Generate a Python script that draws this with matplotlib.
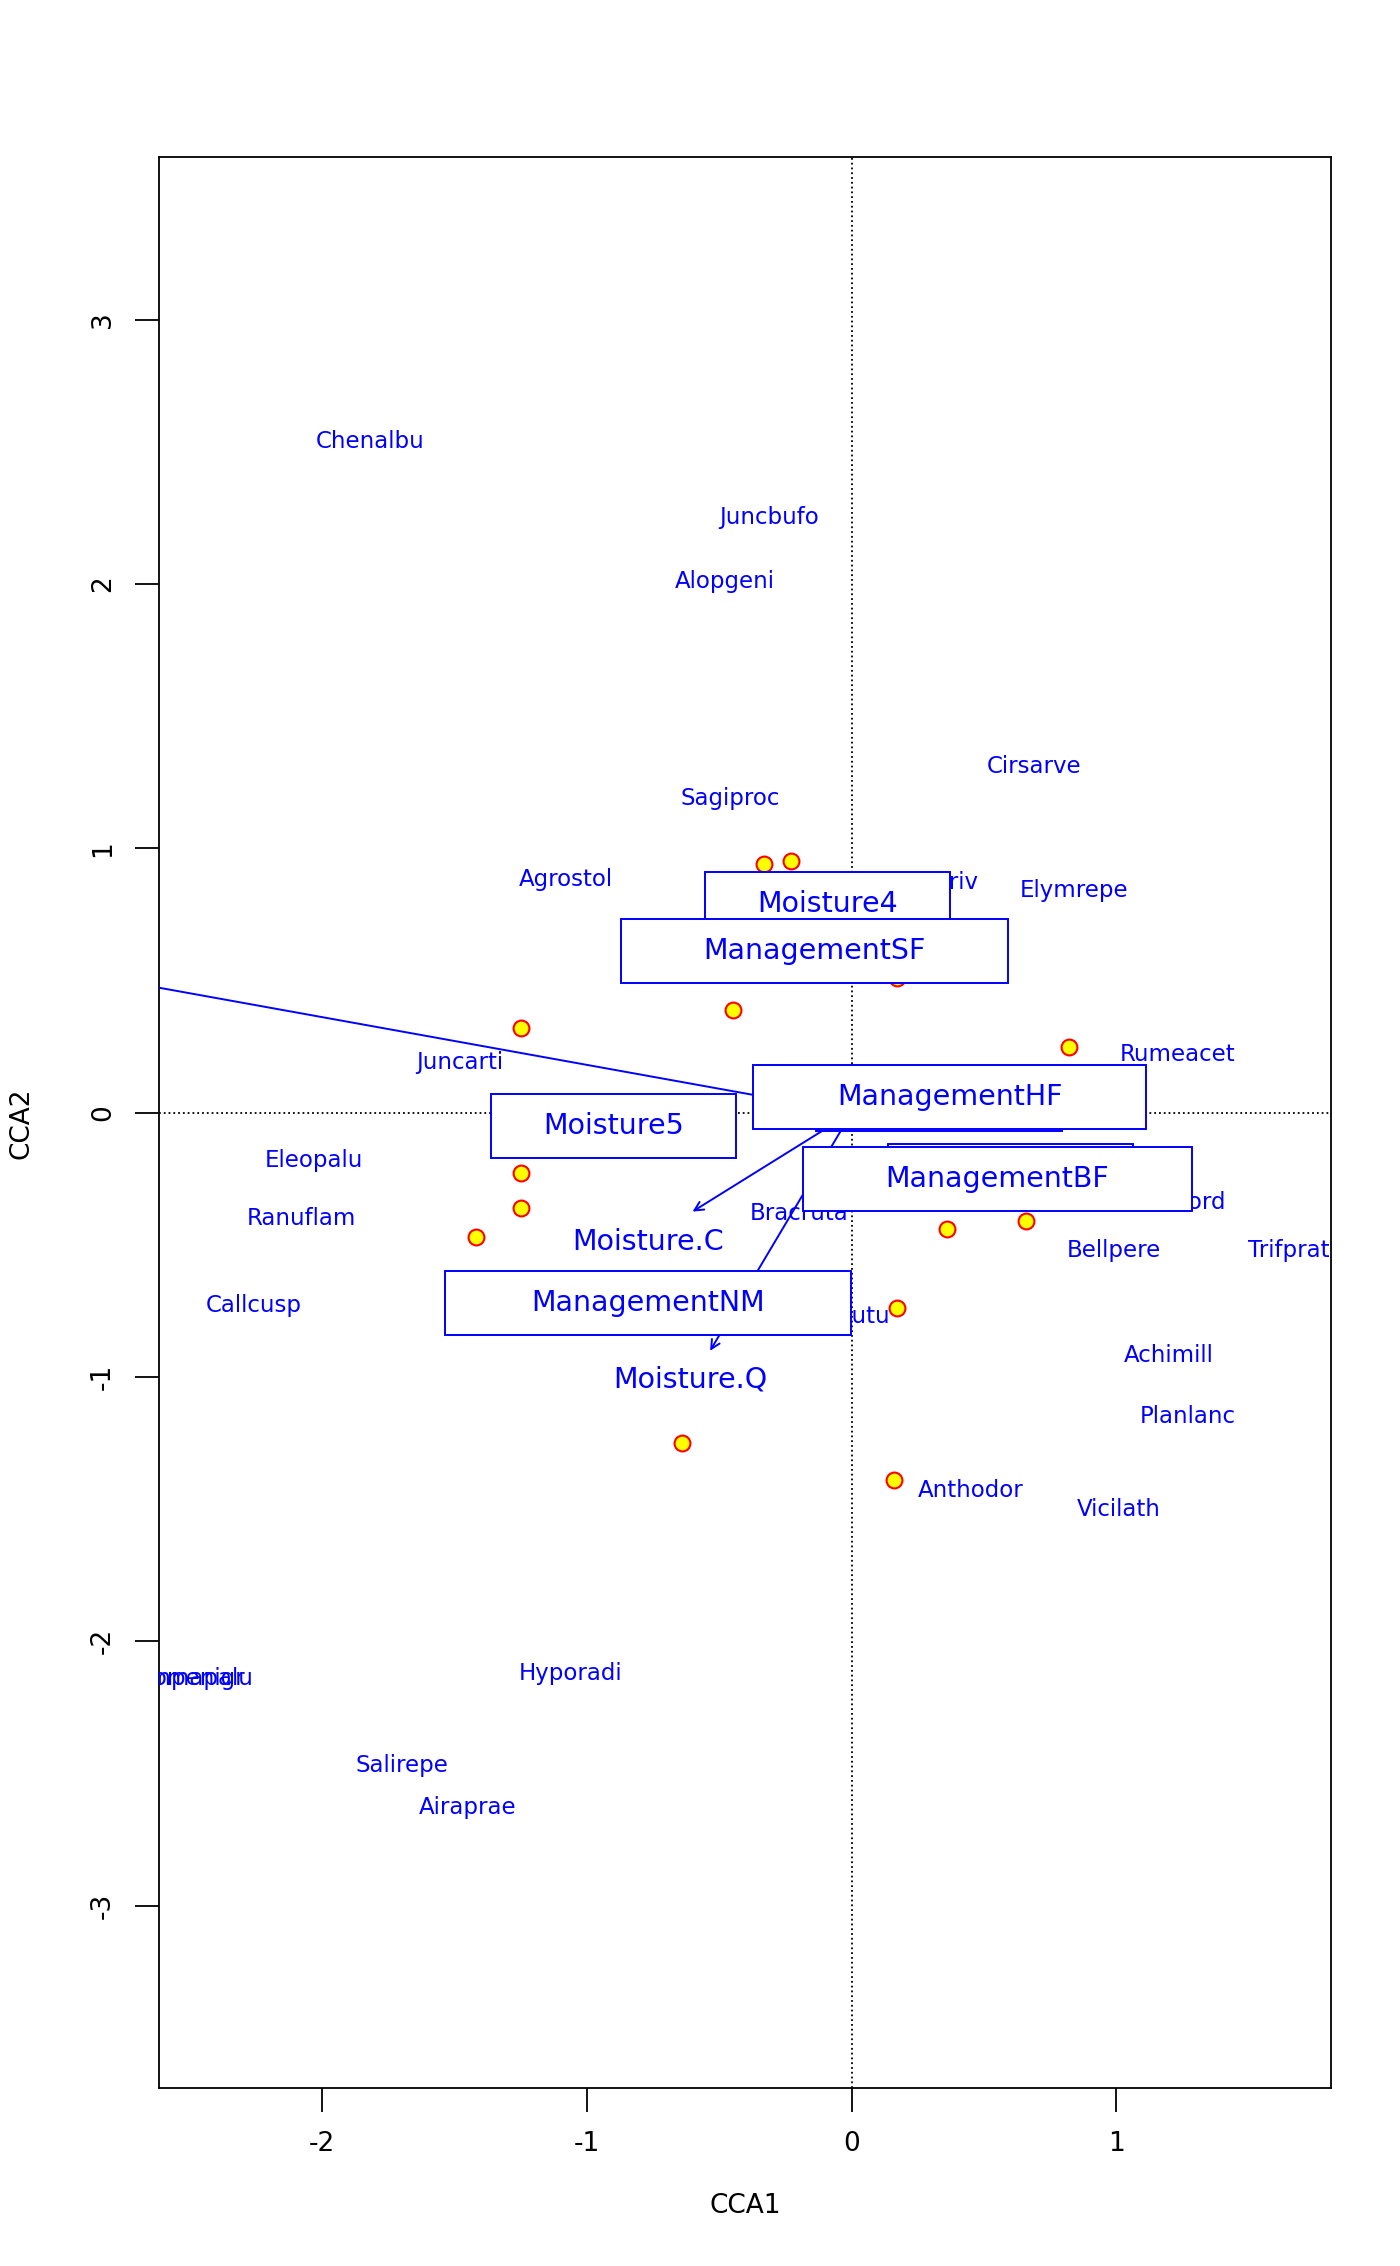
import numpy as np
import matplotlib
matplotlib.use("Agg")
import matplotlib.pyplot as plt
from matplotlib.patches import Rectangle

# site scores
site_x = [-0.33, -0.23, 0.17, -0.45, -1.25, 0.82, -1.25, -1.25, -1.42, 0.36, 0.66, 0.17, -0.64, 0.16]
site_y = [0.94, 0.95, 0.51, 0.39, 0.32, 0.25, -0.23, -0.36, -0.47, -0.44, -0.41, -0.74, -1.25, -1.39]

# species scores
spec_names = ["Chenalbu", "Juncbufo", "Alopgeni", "Cirsarve", "Sagiproc", "Agrostol", "Poatriv",
              "Elymrepe", "Rumeacet", "Juncarti", "Eleopalu", "Ranuflam", "Bracruta", "Bromhord",
              "Bellpere", "Trifprat", "Callcusp", "Scorautu", "Achimill", "Planlanc", "Anthodor",
              "Vicilath", "Comapalu", "Empenigr", "Hyporadi", "Salirepe", "Airaprae"]
spec_x = [-1.82, -0.31, -0.48, 0.69, -0.46, -1.08, 0.33, 0.84, 1.23, -1.48, -2.03, -2.08, -0.20, 1.20,
          0.99, 1.65, -2.26, -0.05, 1.20, 1.27, 0.45, 1.01, -2.48, -2.50, -1.06, -1.70, -1.45]
spec_y = [2.54, 2.25, 2.01, 1.31, 1.19, 0.88, 0.87, 0.84, 0.22, 0.19, -0.18, -0.40, -0.38, -0.34,
          -0.52, -0.52, -0.73, -0.77, -0.92, -1.15, -1.43, -1.50, -2.14, -2.14, -2.12, -2.47, -2.63]

# biplot arrows (heads) and labels; Moisture.L runs off the plot
long_x, long_y = -3.6, 0.65
arrow_names = ["Moisture.Q", "Moisture.C"]
arrow_x = [-0.54, -0.61]
arrow_y = [-0.91, -0.38]
arrow_lab_x = [-0.61, -0.77]
arrow_lab_y = [-1.01, -0.49]

# factor centroids (boxed labels), in drawing order
cent_names = ["Moisture4", "ManagementSF", "Moisture2", "Moisture1", "ManagementHF",
              "ManagementBF", "Moisture5", "ManagementNM"]
cent_x = [-0.09, -0.14, 0.33, 0.60, 0.37, 0.55, -0.90, -0.77]
cent_y = [0.79, 0.61, 0.05, -0.24, 0.06, -0.25, -0.05, -0.72]

blue = "#0000ff"
fig = plt.figure(figsize=(14, 22.66), dpi=100)
ax = fig.add_axes([109/960, 1 - 1432/1554, (913-109)/960, (1432-108)/1554])
ax.set_xlim(-2.617, 1.813)
ax.set_ylim(-3.69, 3.613)

ax.axhline(0, color="black", ls=":", lw=1.3)
ax.axvline(0, color="black", ls=":", lw=1.3)

for n, x, y in zip(spec_names, spec_x, spec_y):
    ax.text(x, y, n, color=blue, fontsize=16.5, ha="center", va="center", clip_on=True)

ax.scatter(site_x, site_y, s=130, facecolor="yellow", edgecolor="red", linewidth=1.5, zorder=3)

ax.plot([0, long_x], [0, long_y], color=blue, lw=1.4, zorder=4)
for n, x, y, lx, ly in zip(arrow_names, arrow_x, arrow_y, arrow_lab_x, arrow_lab_y):
    ax.annotate("", xy=(x, y), xytext=(0, 0),
                arrowprops=dict(arrowstyle="->", color=blue, lw=1.4, mutation_scale=16),
                zorder=4)
    ax.text(lx, ly, n, color=blue, fontsize=20.5, ha="center", va="center", zorder=4, clip_on=True)

fig.canvas.draw()
r = fig.canvas.get_renderer()
inv = ax.transData.inverted()
z = 5
for n, x, y in zip(cent_names, cent_x, cent_y):
    t = ax.text(x, y, n, color=blue, fontsize=20.5, ha="center", va="center", zorder=z + 1)
    bb = t.get_window_extent(r)
    w = bb.width * 1.74
    h = 64
    cx, cy = ax.transData.transform((x, y))
    (x0, y0) = inv.transform((cx - w / 2, cy - h / 2))
    (x1, y1) = inv.transform((cx + w / 2, cy + h / 2))
    ax.add_patch(Rectangle((x0, y0), x1 - x0, y1 - y0, facecolor="white", edgecolor=blue,
                           lw=1.4, zorder=z))
    z += 2

ax.set_xticks([-2, -1, 0, 1])
ax.set_xticklabels(["-2", "-1", "0", "1"])
ax.set_yticks([-3, -2, -1, 0, 1, 2, 3])
ax.set_yticklabels(["-3", "-2", "-1", "0", "1", "2", "3"], rotation=90, va="center")
ax.tick_params(length=17, width=1.3, labelsize=19, pad=14)
ax.set_xlabel("CCA1", fontsize=19, labelpad=26)
ax.set_ylabel("CCA2", fontsize=19, labelpad=40)
for s in ax.spines.values():
    s.set_linewidth(1.3)

fig.savefig("out.png")
